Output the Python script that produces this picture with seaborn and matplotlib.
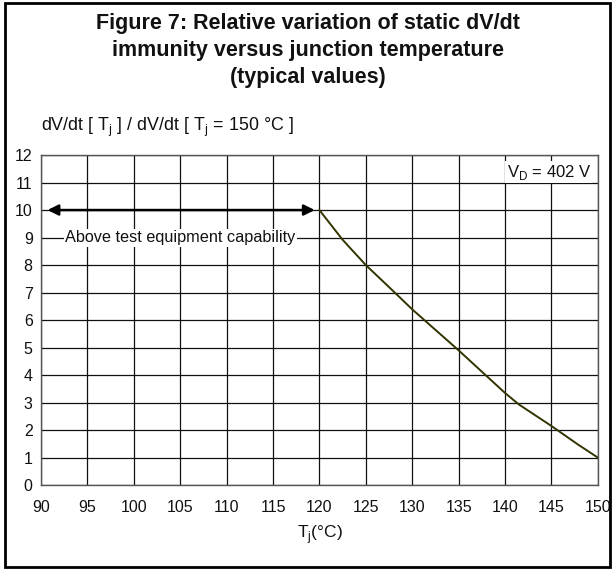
import numpy as np
import pandas as pd
import matplotlib
matplotlib.use("Agg")
import matplotlib.pyplot as plt
from matplotlib.patches import Rectangle
import seaborn as sns

# values
tj = [120, 122.5, 125, 127.5, 130, 135, 140, 141.5, 145, 147.8, 150]
ratio = [10.0, 8.92, 8.0, 7.2, 6.39, 4.9, 3.35, 2.93, 2.15, 1.49, 1.0]

x_ticks = list(range(90, 151, 5))
y_ticks = list(range(0, 13))

title = ("Figure 7: Relative variation of static dV/dt\n"
         "immunity versus junction temperature\n"
         "(typical values)")

sns.set_style("white")
plt.rcParams['font.family'] = ['Liberation Sans', 'DejaVu Sans']
plt.rcParams['mathtext.fontset'] = 'custom'
plt.rcParams['mathtext.rm'] = 'Liberation Sans'

df = pd.DataFrame({'Tj': tj, 'ratio': ratio})

fig = plt.figure(figsize=(6.15, 5.7), dpi=100)
ax = fig.add_axes([0.0667, 0.149, 0.9053, 0.579])

sns.lineplot(data=df, x='Tj', y='ratio', ax=ax, color='#333300', linewidth=1.4)

ax.set_xlim(90, 150)
ax.set_ylim(0, 12)
ax.set_xticks(x_ticks)
ax.set_yticks(y_ticks)
ax.tick_params(axis='both', length=0, labelsize=11.5, colors='#111111')
ax.tick_params(axis='x', pad=11)
ax.tick_params(axis='y', pad=6)
ax.grid(True, color='#111111', linewidth=0.9)
ax.set_axisbelow(True)
for s in ax.spines.values():
    s.set_color('#555555')
    s.set_linewidth(1.0)
ax.set_xlabel('')
ax.set_ylabel('')

# double arrow: above test equipment capability
ax.annotate('', xy=(90.7, 10), xytext=(119.5, 10),
            arrowprops=dict(arrowstyle='<|-|>', color='black', lw=1.8,
                            mutation_scale=16, shrinkA=0, shrinkB=0))
ax.text(105, 9, 'Above test equipment capability', ha='center', va='center',
        fontsize=11.7, color='#111111',
        bbox=dict(facecolor='white', edgecolor='none', pad=1))

ax.text(0.988, 0.948, r'V$_\mathregular{D}$ = 402 V', transform=ax.transAxes,
        ha='right', va='center', fontsize=12, color='#111111',
        bbox=dict(facecolor='white', edgecolor='none', pad=1))

fig.text(0.066, 0.756, r'dV/dt [ T$_\mathregular{j}$ ] / dV/dt [ T$_\mathregular{j}$ = 150 °C ]',
         ha='left', va='bottom', fontsize=12.9, color='#111111')
fig.text(0.52, 0.042, r'T$_\mathregular{j}$(°C)', ha='center', va='bottom',
         fontsize=12.5, color='#111111')

fig.text(0.5, 0.978, title, ha='center', va='top', fontsize=15.5,
         fontweight='bold', linespacing=1.4, color='#111111')

fig.patches.append(Rectangle((0.008, 0.005), 0.984, 0.99, transform=fig.transFigure,
                             fill=False, edgecolor='black', linewidth=2))

fig.savefig('out.png', dpi=100)
